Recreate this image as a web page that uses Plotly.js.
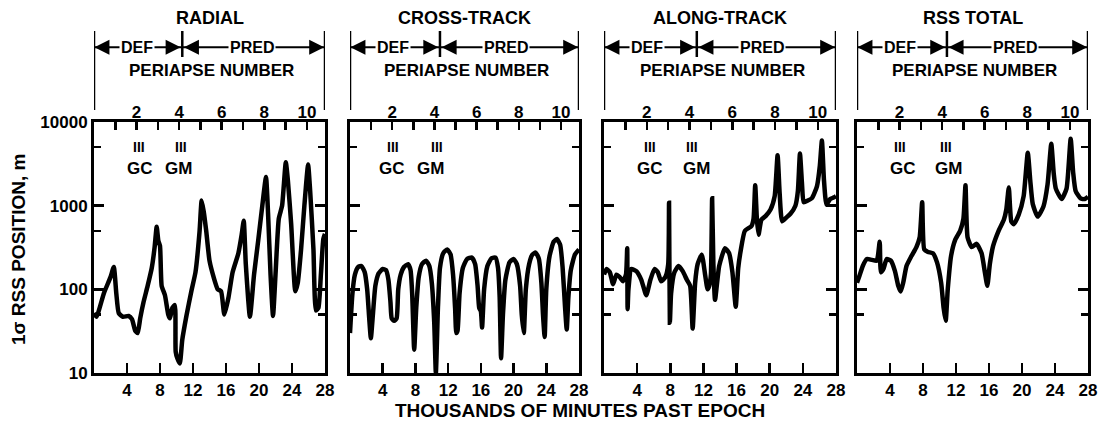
<!DOCTYPE html>
<html><head><meta charset="utf-8">
<script src="https://cdn.plot.ly/plotly-3.0.1.min.js"></script>
<style>html,body{margin:0;padding:0;background:#fff}</style>
</head><body><div id="chart" style="width:1102px;height:429px"></div>
<script>
// ---- data (thousands of minutes past epoch, 1-sigma RSS position in m) ----
const panelTitles = ['RADIAL', 'CROSS-TRACK', 'ALONG-TRACK', 'RSS TOTAL'];

const radialT = [0, 0.3, 1.2, 2.0, 2.4, 2.7, 3.0, 3.5, 4.2, 4.6, 5.0, 5.3, 5.6, 6.0, 6.5, 7.0, 7.35, 7.6, 7.8, 8.0, 8.2, 8.6, 9.0, 9.2, 9.5, 9.8, 9.9, 10.1, 10.4, 10.7, 11.2, 11.8, 12.3, 12.8, 13.05, 13.3, 13.6, 14.0, 14.5, 15.0, 15.4, 15.8, 16.3, 16.8, 17.5, 17.9, 18.15, 18.4, 18.9, 19.4, 19.9, 20.4, 20.85, 21.1, 21.4, 21.7, 22.0, 22.4, 22.8, 23.25, 23.5, 23.9, 24.4, 24.7, 25.1, 25.5, 25.95, 26.2, 26.6, 26.9, 27.2, 27.5, 27.8, 28.0];
const radialV = [52, 47, 90, 140, 185, 90, 52, 47, 48, 44, 32, 30, 45, 70, 110, 180, 320, 560, 380, 330, 110, 85, 50, 45, 60, 65, 18, 15, 13, 25, 48, 95, 160, 500, 1150, 850, 500, 220, 140, 100, 95, 50, 80, 160, 270, 450, 660, 200, 47, 150, 380, 1000, 2200, 800, 150, 48, 150, 700, 1000, 3300, 2000, 600, 95, 120, 300, 1000, 3100, 1500, 300, 56, 60, 150, 400, 460];

const crossT = [0, 0.3, 0.6, 1.0, 1.4, 1.8, 2.1, 2.35, 2.55, 2.8, 3.1, 3.5, 4.0, 4.4, 4.7, 4.95, 5.1, 5.4, 5.7, 5.9, 6.2, 6.6, 7.1, 7.4, 7.6, 7.85, 8.1, 8.4, 8.8, 9.3, 9.7, 10.0, 10.3, 10.5, 10.75, 11.0, 11.4, 11.9, 12.3, 12.6, 12.85, 13.0, 13.15, 13.4, 13.8, 14.3, 14.9, 15.3, 15.6, 15.8, 16.0, 16.15, 16.4, 16.8, 17.3, 17.8, 18.1, 18.3, 18.47, 18.7, 19.0, 19.5, 20.0, 20.4, 20.8, 21.0, 21.25, 21.5, 21.9, 22.3, 22.7, 23.1, 23.4, 23.6, 23.8, 24.0, 24.4, 24.9, 25.3, 25.7, 26.0, 26.3, 26.5, 26.7, 27.0, 27.5, 28.0];
const crossV = [30, 90, 150, 185, 190, 160, 100, 45, 26, 50, 110, 155, 175, 170, 130, 70, 45, 42, 45, 100, 150, 185, 200, 170, 90, 19, 60, 140, 200, 220, 190, 120, 40, 10, 60, 180, 270, 300, 260, 150, 60, 30, 32, 90, 180, 230, 240, 200, 110, 60, 55, 35, 100, 190, 235, 240, 180, 80, 15, 50, 130, 210, 230, 200, 110, 50, 30, 100, 200, 260, 275, 230, 120, 50, 27, 100, 250, 370, 400, 340, 180, 60, 33, 80, 170, 260, 300];

const alongT = [0, 0.3, 0.7, 1.1, 1.5, 1.9, 2.3, 2.65, 2.8, 2.85, 2.95, 3.3, 3.9, 4.5, 5.1, 5.6, 6.1, 6.5, 6.9, 7.4, 7.75, 7.85, 7.95, 8.1, 8.5, 9.0, 9.5, 10.0, 10.4, 10.7, 11.0, 11.3, 11.8, 12.2, 12.5, 12.7, 12.9, 13.05, 13.2, 13.4, 13.9, 14.6, 15.1, 15.5, 15.9, 16.2, 16.5, 17.0, 17.8, 18.05, 18.25, 18.45, 18.65, 19.0, 19.5, 20.1, 20.6, 20.95, 21.2, 21.5, 22.0, 22.5, 23.1, 23.4, 23.65, 23.9, 24.1, 24.6, 25.1, 25.7, 26.05, 26.3, 26.55, 26.85, 27.3, 27.7, 28.0];
const alongV = [150, 175, 160, 115, 150, 140, 125, 150, 310, 58, 100, 175, 165, 130, 85, 130, 175, 160, 125, 140, 200, 1080, 40, 90, 160, 190, 165, 130, 110, 34, 120, 200, 260, 150, 100, 110, 150, 1230, 200, 75, 190, 310, 270, 160, 62, 180, 290, 500, 570, 700, 1750, 700, 450, 680, 750, 900, 1300, 4000, 1400, 650, 720, 800, 1000, 1500, 4200, 1800, 1100, 1150, 1230, 1700, 3000, 6000, 2000, 1030, 1200, 1250, 1300];

const rssT = [0, 0.3, 0.7, 1.2, 1.8, 2.4, 2.75, 2.9, 3.2, 3.6, 4.1, 4.6, 5.0, 5.3, 5.6, 6.0, 6.6, 7.2, 7.6, 7.9, 8.15, 8.6, 9.2, 9.7, 10.2, 10.5, 10.75, 11.0, 11.4, 11.9, 12.5, 12.9, 13.15, 13.4, 13.9, 14.5, 15.1, 15.5, 15.8, 16.1, 16.5, 17.2, 17.8, 18.1, 18.4, 18.7, 19.0, 19.6, 20.2, 20.7, 21.0, 21.3, 21.9, 22.6, 23.1, 23.55, 23.85, 24.1, 24.8, 25.4, 25.9, 26.2, 26.5, 27.1, 27.6, 28.0];
const rssV = [120, 145, 190, 230, 225, 220, 370, 160, 175, 230, 220, 165, 110, 94, 120, 190, 250, 320, 420, 1100, 300, 280, 270, 210, 120, 60, 42, 100, 250, 390, 500, 700, 1750, 420, 320, 350, 270, 160, 110, 200, 330, 510, 680, 900, 1650, 650, 600, 780, 1300, 4300, 2000, 1050, 740, 980, 1800, 5500, 2400, 1600, 1200, 1600, 6300, 2500, 1500, 1220, 1200, 1280];

const xTickVals = [4, 8, 12, 16, 20, 24, 28];
const yTickVals = [10, 100, 1000, 10000];
const yTickText = ['10', '100', '1000', '10000'];
const yMinorVals = [50, 500, 5000];
const periapseVals = [1, 2, 3, 4, 5, 6, 7, 8, 9, 10];
const periapseText = ['', '2', '', '4', '', '6', '', '8', '', '10'];
const periapseRange = [0, 10.85];   // periapse number at t=0 and t=28
const defPredBoundary = [10.7, 11.0, 11.2, 10.9];
const gcMark = [5.45, 5.3, 5.55, 5.2];
const gmMark = [10.6, 10.6, 10.6, 10.8];
const gcText = [5.6, 5.1, 5.5, 5.6];
const gmText = [10.2, 9.8, 11.2, 11.1];

const series = [[radialT, radialV], [crossT, crossV], [alongT, alongV], [rssT, rssV]];

// ---- layout geometry ----
const W = 1102, H = 429;
const M = {l: 94, r: 14, t: 122, b: 56};
const plotW = W - M.l - M.r, plotH = H - M.t - M.b;
const panelPx = [[94, 325], [350, 579], [604, 836], [857, 1088]];
const py = (pix) => (H - M.b - pix) / plotH;   // pixel y -> paper y
const pxp = (pix) => (pix - M.l) / plotW;      // pixel x -> paper x

const FONT = 'Liberation Sans, Arial, sans-serif';
const traces = [];
const layout = {
  width: W, height: H, margin: M,
  paper_bgcolor: 'white', plot_bgcolor: 'white', showlegend: false,
  font: {family: FONT, size: 16, color: 'black'},
  shapes: [], annotations: []
};

series.forEach((s, i) => {
  const n = i + 1;
  const xa = n === 1 ? 'x' : 'x' + n;
  const ya = n === 1 ? 'y' : 'y' + n;
  const xt = 'x' + (n + 4);
  traces.push({x: s[0], y: s[1], xaxis: xa, yaxis: ya, type: 'scatter', mode: 'lines',
    line: {color: 'black', width: 4.5, shape: 'spline', smoothing: 0.5}, hoverinfo: 'skip'});
  traces.push({x: [null], y: [null], xaxis: xt, yaxis: ya, type: 'scatter', mode: 'lines', hoverinfo: 'skip'});
  const dom = [pxp(panelPx[i][0]), pxp(panelPx[i][1])];
  layout['xaxis' + (n === 1 ? '' : n)] = {
    domain: dom, anchor: ya, range: [0, 28], fixedrange: true,
    tickmode: 'array', tickvals: xTickVals, ticks: 'inside', ticklen: 10, tickwidth: 2.5, tickcolor: 'black',
    showline: true, linewidth: 3, linecolor: 'black', mirror: true, showgrid: false, zeroline: false,
    tickfont: {family: FONT, size: 17, weight: 'bold'}
  };
  layout['xaxis' + (n + 4)] = {
    overlaying: xa, anchor: ya, side: 'top', range: periapseRange, fixedrange: true,
    tickmode: 'array', tickvals: periapseVals, ticktext: periapseText,
    ticks: 'inside', ticklen: 8, tickwidth: 2.5, tickcolor: 'black',
    showline: false, showgrid: false, zeroline: false,
    tickfont: {family: FONT, size: 17, weight: 'bold'}
  };
  layout['yaxis' + (n === 1 ? '' : n)] = {
    domain: [0, 1], anchor: xa, type: 'log', range: [1, 4], fixedrange: true,
    tickmode: 'array', tickvals: yTickVals, ticktext: yTickText, showticklabels: n === 1,
    ticks: 'inside', ticklen: 10, tickwidth: 2.5, tickcolor: 'black',
    minor: {tickmode: 'array', tickvals: yMinorVals, ticks: 'inside', ticklen: 7, tickwidth: 2.5, tickcolor: 'black', showgrid: false},
    showline: true, linewidth: 3, linecolor: 'black', mirror: 'ticks', showgrid: false, zeroline: false,
    tickfont: {family: FONT, size: 17, weight: 'bold'}
  };

  const b = defPredBoundary[i];
  const yArrow = py(47.3);
  const lineSty = {color: 'black', width: 2.5};
  // bracket verticals
  layout.shapes.push({type: 'line', xref: xa, yref: 'paper', x0: 0, x1: 0, y0: py(110), y1: py(31), line: lineSty});
  layout.shapes.push({type: 'line', xref: xa, yref: 'paper', x0: 28, x1: 28, y0: py(110), y1: py(31), line: lineSty});
  layout.shapes.push({type: 'line', xref: xa, yref: 'paper', x0: b, x1: b, y0: py(57), y1: py(31), line: lineSty});
  // DEF / PRED horizontal lines
  layout.shapes.push({type: 'line', xref: xa, yref: 'paper', x0: 0, x1: b, y0: yArrow, y1: yArrow, line: {color: 'black', width: 2}});
  layout.shapes.push({type: 'line', xref: xa, yref: 'paper', x0: b, x1: 28, y0: yArrow, y1: yArrow, line: {color: 'black', width: 2}});
  // arrowheads
  const arrow = (x, off) => ({xref: xa, yref: 'paper', x: x, y: yArrow, ax: off, ay: 0, text: '',
    showarrow: true, arrowhead: 2, arrowsize: 1.2, arrowwidth: 2.5, arrowcolor: 'black'});
  layout.annotations.push(arrow(0.05, 14), arrow(b - 0.2, -14), arrow(b + 0.2, 14), arrow(27.9, -14));
  const txt = (x, y, t, size, extra) => Object.assign({xref: xa, yref: 'paper', x: x, y: y, text: t, showarrow: false,
    xanchor: 'center', yanchor: 'middle', font: {family: FONT, size: size, color: 'black', weight: 'bold'}}, extra || {});
  layout.annotations.push(txt(14, py(18), panelTitles[i], 18));
  layout.annotations.push(txt(5.2, yArrow, 'DEF', 16, {bgcolor: 'white', borderpad: 1}));
  layout.annotations.push(txt(19.1, yArrow, 'PRED', 16, {bgcolor: 'white', borderpad: 1}));
  layout.annotations.push(txt(14.3, py(70.7), 'PERIAPSE NUMBER', 17));
  layout.annotations.push(txt(gcMark[i], py(147), 'III', 14));
  layout.annotations.push(txt(gmMark[i], py(147), 'III', 14));
  layout.annotations.push(txt(gcText[i], py(168), 'GC', 17));
  layout.annotations.push(txt(gmText[i], py(168), 'GM', 17));
});

layout.annotations.push({xref: 'paper', yref: 'paper', x: pxp(18), y: py(250), text: '1σ RSS POSITION, m',
  textangle: -90, showarrow: false, xanchor: 'center', yanchor: 'middle',
  font: {family: FONT, size: 19, color: 'black', weight: 'bold'}});
layout.annotations.push({xref: 'paper', yref: 'paper', x: pxp(580), y: py(410), text: 'THOUSANDS OF MINUTES PAST EPOCH',
  showarrow: false, xanchor: 'center', yanchor: 'middle',
  font: {family: FONT, size: 19, color: 'black', weight: 'bold'}});

Plotly.newPlot('chart', traces, layout, {staticPlot: true, displayModeBar: false});
</script>
</body></html>
